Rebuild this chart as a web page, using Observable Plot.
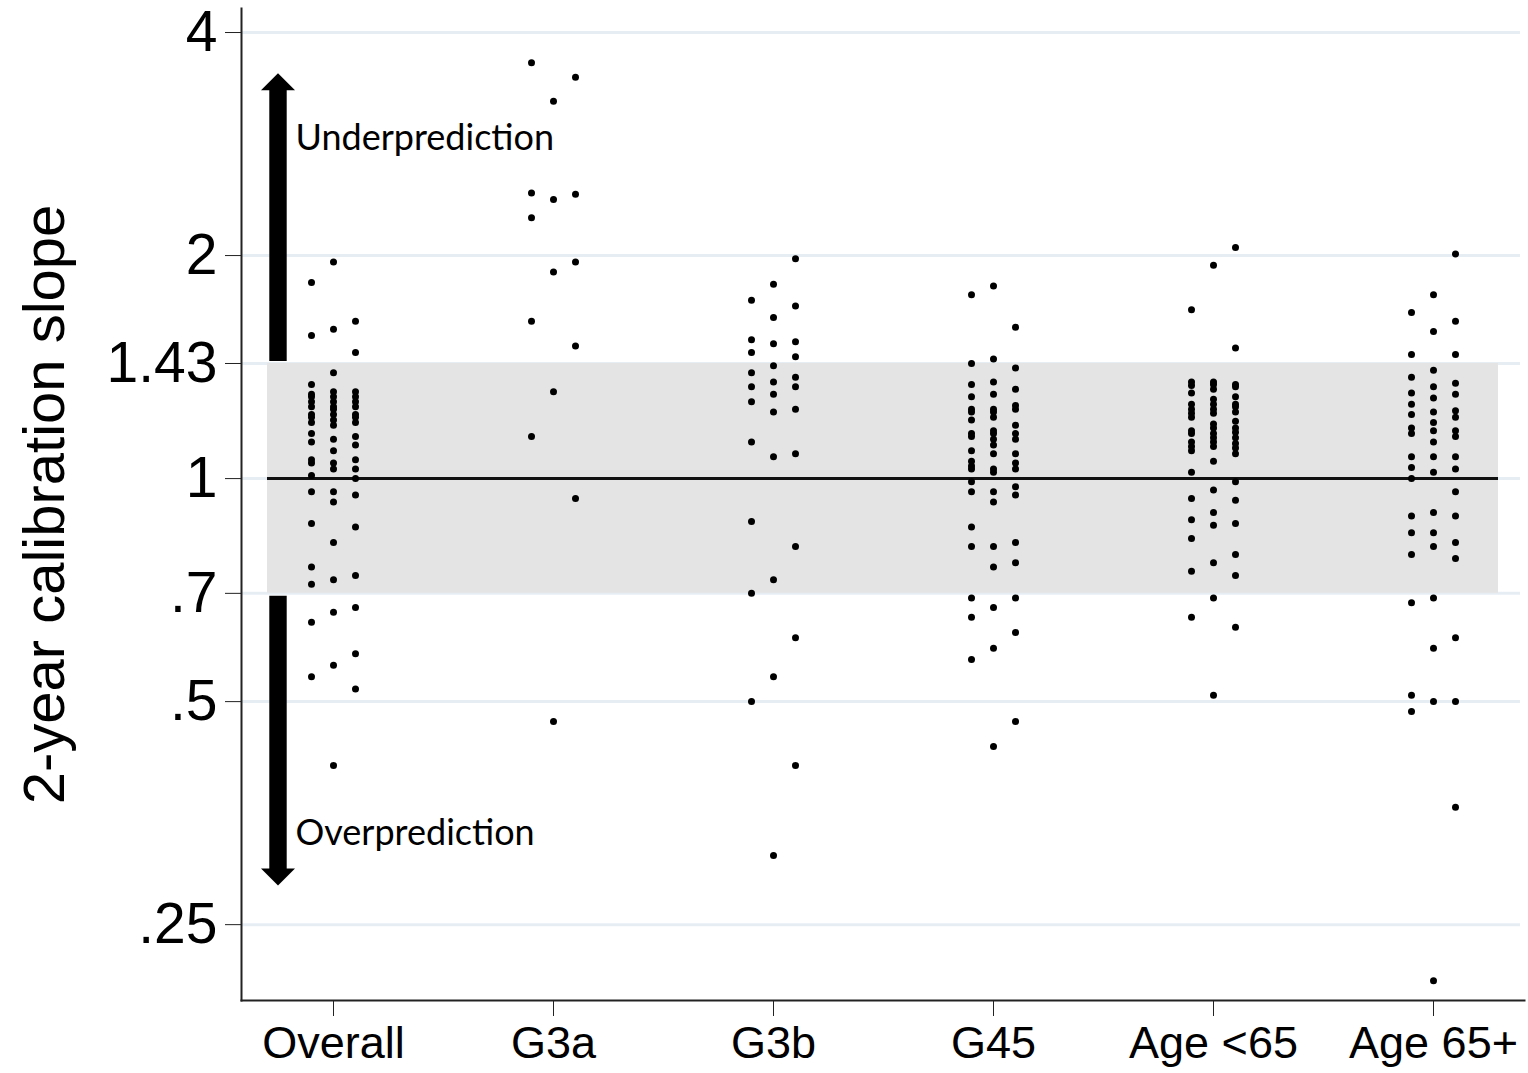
<!DOCTYPE html>
<html>
<head>
<meta charset="utf-8">
<script src="https://cdn.jsdelivr.net/npm/d3@7"></script>
<script src="https://cdn.jsdelivr.net/npm/@observablehq/plot@0.6"></script>
<style>
  html, body { margin: 0; padding: 0; background: #fff; }
  #chart svg { display: block; }
</style>
</head>
<body>
<div id="chart"></div>
<script>
// ---- Data ----
const categories = ["Overall", "G3a", "G3b", "G45", "Age <65", "Age 65+"];
const yTicks = [4, 2, 1.43, 1, 0.7, 0.5, 0.25];
const yTitle = "2-year calibration slope";
const band = [0.7, 1.43];
const refLine = [1];

// each group: [left column, middle column, right column]
const overall = [
  [1.84, 1.56, 1.34, 1.30, 1.29, 1.27, 1.25, 1.22, 1.21, 1.19, 1.15, 1.12, 1.06, 1.05, 1.01, 0.96, 0.87, 0.76, 0.72, 0.64, 0.54],
  [1.96, 1.59, 1.39, 1.31, 1.29, 1.27, 1.25, 1.24, 1.22, 1.20, 1.18, 1.13, 1.09, 1.05, 1.03, 0.96, 0.93, 0.82, 0.73, 0.66, 0.56, 0.41],
  [1.63, 1.48, 1.31, 1.29, 1.27, 1.25, 1.22, 1.21, 1.19, 1.14, 1.11, 1.06, 1.03, 1.00, 0.95, 0.86, 0.74, 0.67, 0.58, 0.52]
];
const g3a = [
  [3.64, 2.43, 2.25, 1.63, 1.14],
  [3.23, 2.38, 1.90, 1.31, 0.47],
  [3.48, 2.42, 1.96, 1.51, 0.94]
];
const g3b = [
  [1.74, 1.54, 1.48, 1.39, 1.33, 1.27, 1.12, 0.875, 0.70, 0.50],
  [1.83, 1.65, 1.52, 1.42, 1.35, 1.30, 1.23, 1.07, 0.73, 0.54, 0.31],
  [1.98, 1.71, 1.53, 1.46, 1.37, 1.33, 1.24, 1.08, 0.81, 0.61, 0.41]
];
const g45 = [
  [1.77, 1.43, 1.34, 1.29, 1.24, 1.23, 1.20, 1.15, 1.14, 1.09, 1.055, 1.04, 1.03, 0.99, 0.96, 0.86, 0.81, 0.69, 0.65, 0.57],
  [1.82, 1.45, 1.35, 1.30, 1.24, 1.23, 1.21, 1.16, 1.15, 1.13, 1.11, 1.08, 1.03, 1.02, 0.96, 0.93, 0.81, 0.76, 0.67, 0.59, 0.435],
  [1.60, 1.41, 1.32, 1.255, 1.24, 1.18, 1.15, 1.13, 1.08, 1.05, 1.03, 0.975, 0.95, 0.82, 0.77, 0.69, 0.62, 0.47]
];
const ageUnder65 = [
  [1.69, 1.35, 1.335, 1.305, 1.26, 1.24, 1.225, 1.21, 1.16, 1.15, 1.12, 1.105, 1.09, 1.02, 0.94, 0.88, 0.83, 0.75, 0.65],
  [1.94, 1.35, 1.34, 1.32, 1.28, 1.26, 1.24, 1.225, 1.185, 1.17, 1.15, 1.135, 1.12, 1.105, 1.055, 0.965, 0.90, 0.865, 0.77, 0.69, 0.51],
  [2.05, 1.50, 1.34, 1.33, 1.29, 1.26, 1.25, 1.23, 1.195, 1.17, 1.155, 1.135, 1.115, 1.10, 1.08, 0.99, 0.935, 0.87, 0.79, 0.74, 0.63]
];
const age65plus = [
  [1.675, 1.47, 1.37, 1.305, 1.26, 1.22, 1.17, 1.15, 1.07, 1.035, 1.00, 0.89, 0.845, 0.79, 0.68, 0.51, 0.485],
  [1.77, 1.58, 1.40, 1.33, 1.285, 1.23, 1.19, 1.16, 1.12, 1.07, 1.02, 0.90, 0.845, 0.81, 0.69, 0.59, 0.50, 0.21],
  [2.01, 1.63, 1.47, 1.345, 1.30, 1.235, 1.21, 1.16, 1.14, 1.07, 1.03, 0.96, 0.89, 0.82, 0.78, 0.61, 0.50, 0.36]
];
const groups = [overall, g3a, g3b, g45, ageUnder65, age65plus];

// annotations
const annotations = [
  {text: "Underprediction", y: 2.877},
  {text: "Overprediction", y: 0.3318}
];
const arrowUp = {from: 1.43, to: 3.52};
const arrowDown = {from: 0.70, to: 0.282};
const yDomain = [0.1975, 4.31];

// ---- Build table ----
const points = [];
categories.forEach((cat, i) => {
  groups[i].forEach((col, k) => {
    col.forEach(v => points.push({cat, col: k, v}));
  });
});

const fmt = d => d < 1 ? String(d).replace(/^0/, "") : String(d);

function arrowsMark(index, scales, values, dimensions) {
  const y = scales.y;
  const cx = dimensions.marginLeft + 37;
  const hw = 8.7, hh = 17, hl = 17;
  const g = d3.create("svg:g");
  const up0 = y(arrowUp.from) - 2, up1 = y(arrowUp.to);
  const dn0 = y(arrowDown.from) + 3, dn1 = y(arrowDown.to);
  const upPts = [[cx-hw,up0],[cx-hw,up1+hl],[cx-hh,up1+hl],[cx,up1],[cx+hh,up1+hl],[cx+hw,up1+hl],[cx+hw,up0]];
  const dnPts = [[cx-hw,dn0],[cx-hw,dn1-hl],[cx-hh,dn1-hl],[cx,dn1],[cx+hh,dn1-hl],[cx+hw,dn1-hl],[cx+hw,dn0]];
  g.append("polygon").attr("points", upPts.map(p => p.join(",")).join(" ")).attr("fill", "#000");
  g.append("polygon").attr("points", dnPts.map(p => p.join(",")).join(" ")).attr("fill", "#000");
  return g.node();
}

const chart = Plot.plot({
  width: 1528,
  height: 1073,
  marginLeft: 241,
  marginRight: 4,
  marginTop: 8,
  marginBottom: 73,
  style: {fontFamily: "'Liberation Sans', Arial, sans-serif", color: "#000", background: "#fff"},
  x: {type: "point", domain: categories, padding: 0.413},
  y: {type: "log", domain: yDomain},
  marks: [
    Plot.ruleY(yTicks, {stroke: "#e6eef4", strokeWidth: 3, insetRight: 4}),
    Plot.rect([band], {y1: d => d[0], y2: d => d[1], fill: "#e4e4e4", insetLeft: 26, insetRight: 26}),
    Plot.ruleY(refLine, {stroke: "#111", strokeWidth: 3, insetLeft: 26, insetRight: 26}),
    ...[0, 1, 2].map(k => Plot.dot(points.filter(d => d.col === k), {
      x: "cat", y: "v", r: 3.5, fill: "#000", stroke: "none", dx: (k - 1) * 22
    })),
    arrowsMark,
    Plot.text(annotations, {
      x: () => categories[0], y: "y", text: "text", dx: -38, textAnchor: "start",
      fontSize: 36, fontFamily: "Lato, 'Open Sans', sans-serif", fill: "#000"
    }),
    Plot.axisY(yTicks, {tickSize: 16, tickPadding: 8, fontSize: 57, tickFormat: fmt, label: null, stroke: "#222"}),
    Plot.axisX({tickSize: 16, tickPadding: 10, fontSize: 45, label: null, stroke: "#222"}),
    Plot.frame({anchor: "left", stroke: "#222", strokeWidth: 2}),
    Plot.frame({anchor: "bottom", stroke: "#222", strokeWidth: 2}),
    Plot.text([yTitle], {frameAnchor: "left", dx: -196, rotate: -90, textAnchor: "middle", lineAnchor: "middle", fontSize: 58, fill: "#000"})
  ]
});
document.getElementById("chart").appendChild(chart);
</script>
</body>
</html>
